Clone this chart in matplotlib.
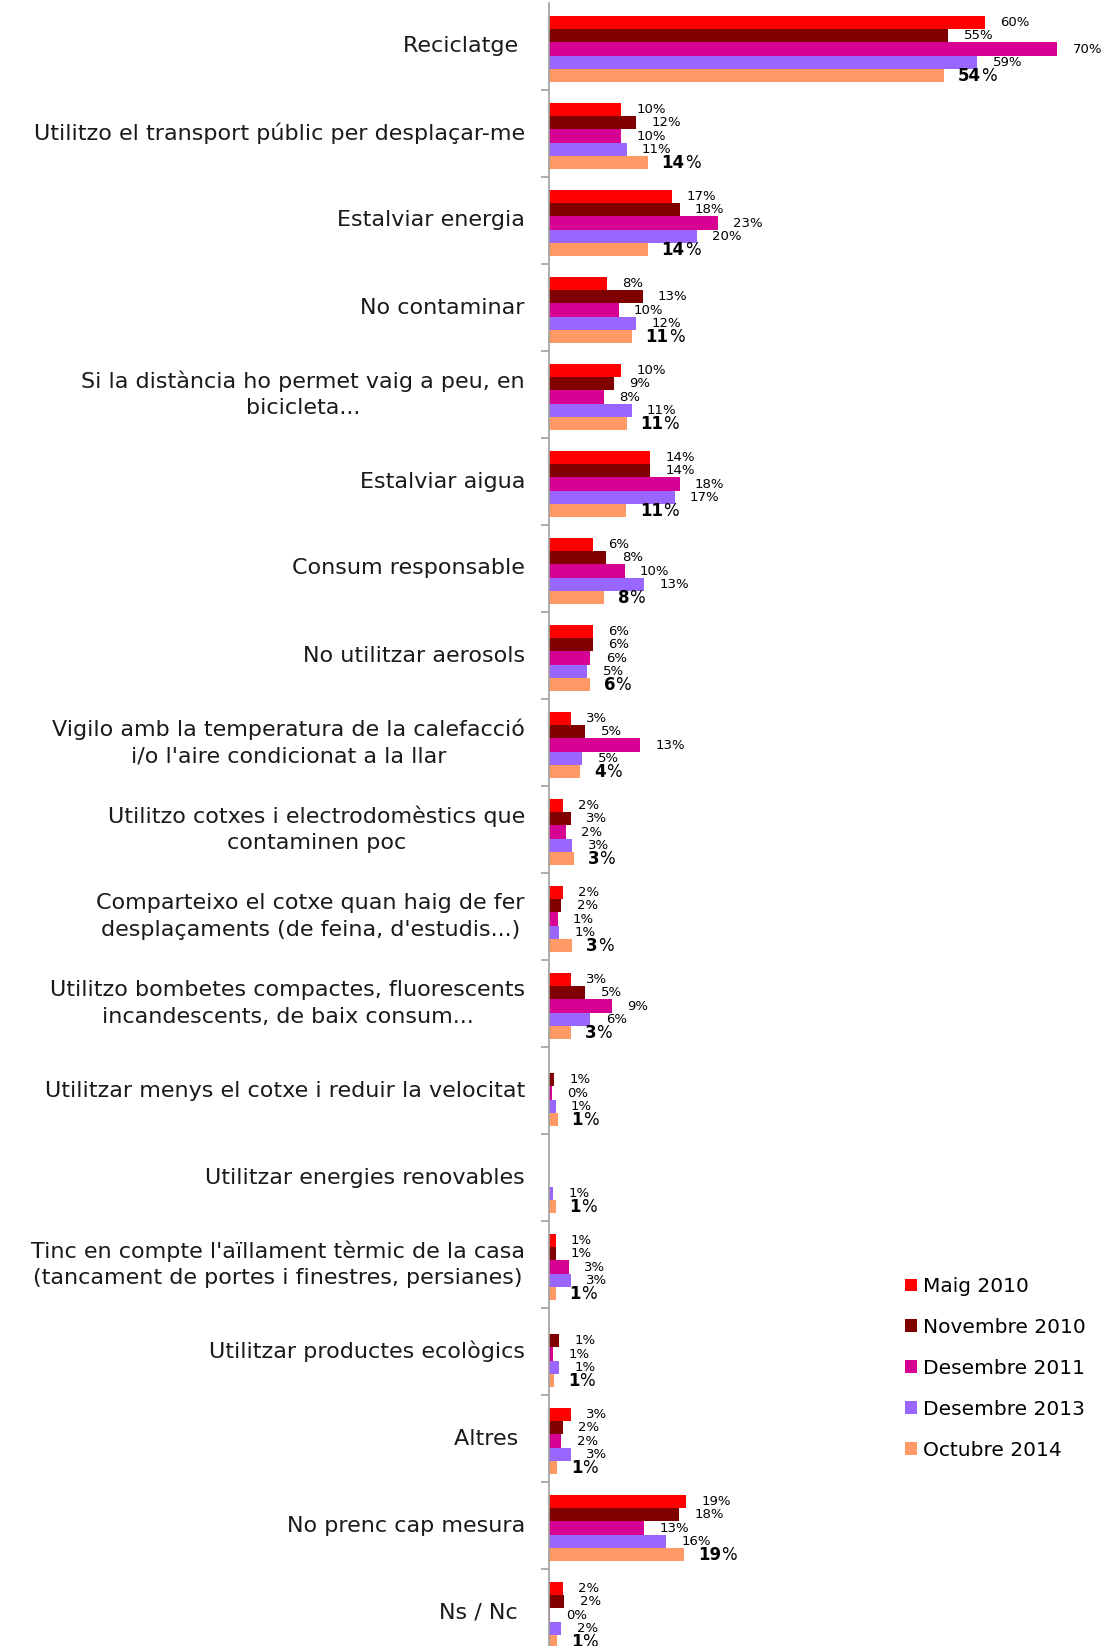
import numpy as np
import matplotlib
matplotlib.use("Agg")
import matplotlib.pyplot as plt
from matplotlib.patches import Patch

nan = np.nan

categories = [
    "Reciclatge ",
    "Utilitzo el transport públic per desplaçar-me",
    "Estalviar energia",
    "No contaminar",
    "Si la distància ho permet vaig a peu, en\nbicicleta...",
    "Estalviar aigua",
    "Consum responsable",
    "No utilitzar aerosols",
    "Vigilo amb la temperatura de la calefacció\ni/o l'aire condicionat a la llar",
    "Utilitzo cotxes i electrodomèstics que\ncontaminen poc",
    "Comparteixo el cotxe quan haig de fer\ndesplaçaments (de feina, d'estudis...)",
    "Utilitzo bombetes compactes, fluorescents\nincandescents, de baix consum...",
    "Utilitzar menys el cotxe i reduir la velocitat",
    "Utilitzar energies renovables",
    "Tinc en compte l'aïllament tèrmic de la casa\n(tancament de portes i finestres, persianes)",
    "Utilitzar productes ecològics",
    "Altres ",
    "No prenc cap mesura",
    "Ns / Nc ",
]

series_names = ["Maig 2010", "Novembre 2010", "Desembre 2011", "Desembre 2013", "Octubre 2014"]
colors = ["#FF0000", "#800000", "#D60093", "#9966FF", "#FF9966"]

# percentages (bar lengths)
maig_2010 = [60.1, 9.9, 16.9, 8.0, 9.9, 13.9, 6.0, 6.0, 3.0, 1.9, 1.9, 3.0, nan, nan, 0.9, nan, 3.0, 18.9, 1.9]
nov_2010 = [55.0, 12.0, 18.0, 12.9, 9.0, 13.9, 7.9, 6.0, 5.0, 3.0, 1.7, 5.0, 0.7, nan, 0.9, 1.4, 1.9, 17.9, 2.1]
des_2011 = [70.0, 9.9, 23.3, 9.6, 7.6, 18.0, 10.4, 5.7, 12.6, 2.3, 1.2, 8.7, 0.4, nan, 2.7, 0.6, 1.7, 13.1, 0.2]
des_2013 = [59.0, 10.7, 20.4, 12.0, 11.4, 17.3, 13.1, 5.3, 4.6, 3.2, 1.4, 5.7, 0.9, 0.6, 3.0, 1.4, 3.0, 16.1, 1.7]
oct_2014 = [54.4, 13.6, 13.6, 11.4, 10.7, 10.6, 7.6, 5.6, 4.3, 3.4, 3.2, 3.0, 1.2, 0.9, 0.9, 0.7, 1.1, 18.6, 1.1]

values = [maig_2010, nov_2010, des_2011, des_2013, oct_2014]

plt.rcParams['font.family'] = ['DejaVu Sans']

W, H = 1103, 1646
fig = plt.figure(figsize=(W / 100, H / 100), dpi=100)

n = len(categories)
slot = 87.0
top_px = 3
ax_left = 549 / W
xmax = 75
px_per_pct = 7.26
ax_w = xmax * px_per_pct / W
ax_h = n * slot / H
ax_bottom = 1 - (top_px + n * slot) / H
ax = fig.add_axes([ax_left, ax_bottom, ax_w, ax_h])
ax.set_xlim(0, xmax)
ax.set_ylim(n - 0.5, -0.5)

group = 0.76
bh = group / 5
y = np.arange(n)
for j, vals in enumerate(values):
    pos = y - group / 2 + (j + 0.5) * bh + 0.03
    v = np.array(vals, dtype=float)
    ax.barh(pos, v, height=bh, color=colors[j], edgecolor='none')
    for p, val in zip(pos, v):
        if np.isnan(val):
            continue
        lb = int(round(val))
        if j == 4:
            t = ax.annotate(f"{lb}", xy=(val, p), xytext=(10, 0), textcoords='offset points',
                            ha='left', va='center', fontsize=12, fontweight='bold', color='black')
            ax.annotate("%", xy=(1, 0), xycoords=t, ha='left', va='bottom',
                        fontsize=12, color='black')
        else:
            ax.annotate(f"{lb}%", xy=(val, p), xytext=(11, 0), textcoords='offset points',
                        ha='left', va='center', fontsize=9.5, color='black')

for s in ['top', 'right', 'bottom']:
    ax.spines[s].set_visible(False)
ax.spines['left'].set_color('#A0A0A0')
ax.spines['left'].set_linewidth(1.2)
ax.set_xticks([])
ax.set_yticks(np.arange(n - 1) + 0.5)
ax.set_yticklabels([])
ax.tick_params(axis='y', direction='out', length=6, color='#A0A0A0', width=1.2)

for i, c in enumerate(categories):
    ax.annotate(c, xy=(0, i), xytext=(-24, 0), textcoords='offset pixels',
                ha='right', va='center', multialignment='center', fontsize=16,
                color='#1a1a1a', linespacing=1.4)

handles = [Patch(facecolor=c, edgecolor='none') for c in colors]
fig.legend(handles, series_names, loc='upper left', bbox_to_anchor=(905 / W, 1 - 1277 / H),
           frameon=False, fontsize=14.5, handlelength=0.6, handleheight=0.6,
           handletextpad=0.3, labelspacing=1.09, borderaxespad=0, borderpad=0)

fig.savefig("out.png", dpi=100)
